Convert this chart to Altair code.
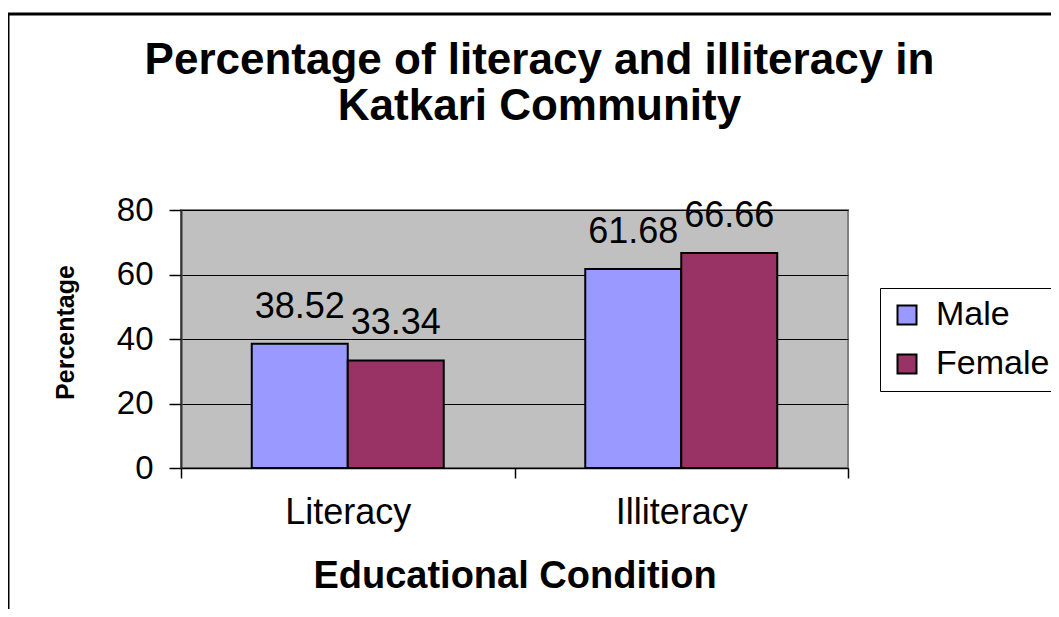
import altair as alt
import pandas as pd

# ---- data ----
conditions = ["Literacy", "Literacy", "Illiteracy", "Illiteracy"]
genders = ["Male", "Female", "Male", "Female"]
percentages = [38.52, 33.34, 61.68, 66.66]
label_texts = ["38.52", "33.34", "61.68", "66.66"]

category_order = ["Literacy", "Illiteracy"]
gender_order = ["Male", "Female"]
gender_colors = ["#9999FF", "#993366"]
y_ticks = [0, 20, 40, 60, 80]
title_lines = ["Percentage of literacy and illiteracy in", "Katkari Community"]

df = pd.DataFrame({
    "Condition": conditions,
    "Gender": genders,
    "Percentage": percentages,
    "Label": label_texts,
})

FONT = "Liberation Sans"
W, H = 667, 258
PAD = {"left": 173, "top": 202, "right": 203, "bottom": 141}

x_enc = alt.X(
    "Condition:N",
    sort=category_order,
    scale=alt.Scale(paddingInner=0, paddingOuter=0),
    axis=alt.Axis(
        title="Educational Condition",
        labelAngle=0,
        tickBand="extent",
        ticks=True,
        tickSize=10,
        tickColor="black",
        tickWidth=1.5,
        domainColor="black",
        domainWidth=1.5,
        labelFont=FONT,
        labelFontSize=36,
        labelColor="black",
        labelPadding=17,
        titleFont=FONT,
        titleFontSize=38,
        titleFontWeight="bold",
        titleColor="black",
        titleY=119,
        titleBaseline="alphabetic",
        grid=False,
    ),
)
x_off = alt.XOffset(
    "Gender:N",
    sort=gender_order,
    scale=alt.Scale(paddingInner=0, paddingOuter=0.737),
)
y_enc = alt.Y(
    "Percentage:Q",
    scale=alt.Scale(domain=[0, 80], nice=False),
    axis=alt.Axis(
        values=y_ticks,
        title="Percentage",
        grid=True,
        gridColor="black",
        gridWidth=1,
        tickSize=12,
        tickColor="black",
        tickWidth=1.5,
        domainColor="#333333",
        domainWidth=2,
        labelFont=FONT,
        labelFontSize=33,
        labelColor="black",
        labelPadding=16,
        titleFont=FONT,
        titleFontSize=25,
        titleFontWeight="bold",
        titleColor="black",
        titleAngle=270,
        titleX=-116,
        titleY=122,
        titleAlign="center",
        titleBaseline="middle",
    ),
)
color_enc = alt.Color(
    "Gender:N",
    sort=gender_order,
    scale=alt.Scale(domain=gender_order, range=gender_colors),
    legend=alt.Legend(
        title=None,
        orient="none",
        legendX=699,
        legendY=78,
        symbolType="square",
        symbolSize=361,
        symbolStrokeColor="black",
        symbolStrokeWidth=2,
        symbolOpacity=1,
        labelFont=FONT,
        labelFontSize=34,
        labelColor="black",
        labelOffset=12,
        rowPadding=15,
        padding=10,
        strokeColor="black",
        fillColor="white",
    ),
)

bars = alt.Chart(df).mark_bar(stroke="black", strokeWidth=2, opacity=1).encode(
    x=x_enc, xOffset=x_off, y=y_enc, color=color_enc
)

labels = alt.Chart(df).mark_text(
    dy=-26, baseline="alphabetic", align="center", font=FONT, fontSize=36, color="black"
).encode(
    x=alt.X("Condition:N", sort=category_order),
    xOffset=alt.XOffset("Gender:N", sort=gender_order),
    y=alt.Y("Percentage:Q"),
    text="Label:N",
)

frame_data = alt.Data(values=[{"k": 1}])
frame_left = alt.Chart(frame_data).mark_rule(color="black", strokeWidth=3).encode(
    x=alt.value(-173), y=alt.value(-196), y2=alt.value(H + PAD["bottom"] + 20)
)
frame_top = alt.Chart(frame_data).mark_rule(color="black", strokeWidth=3).encode(
    x=alt.value(-174), x2=alt.value(W + PAD["right"] + 20), y=alt.value(-196)
)

chart = alt.layer(bars, labels, frame_left, frame_top).properties(
    width=W,
    height=H,
    padding=PAD,
    autosize=alt.AutoSizeParams(type="none"),
    background="white",
    title=alt.TitleParams(
        text=title_lines,
        font=FONT,
        fontSize=44,
        fontWeight="bold",
        color="black",
        anchor="middle",
        frame="group",
        dx=25,
        dy=116,
        offset=0,
        lineHeight=46,
    ),
).configure_view(fill="#C0C0C0", stroke="#808080", strokeWidth=2)

chart.save("out.html", embed_options={"renderer": "svg", "actions": False})
